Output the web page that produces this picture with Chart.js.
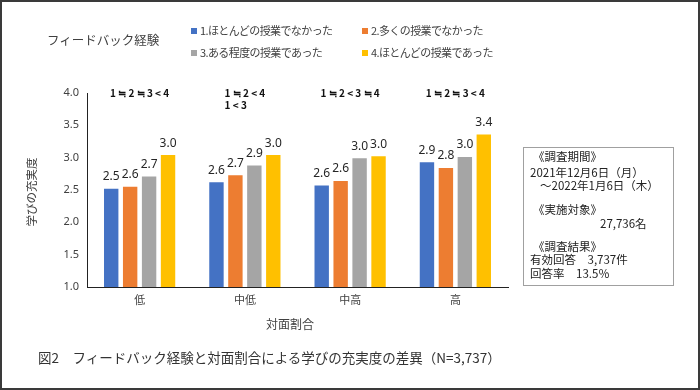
<!DOCTYPE html>
<html>
<head>
<meta charset="utf-8">
<script src="https://cdn.jsdelivr.net/npm/chart.js@4/dist/chart.umd.min.js"></script>
<style>
html,body{margin:0;padding:0;background:#fff;}
#wrap{position:relative;width:700px;height:390px;overflow:hidden;font-family:"Noto Sans CJK JP","Noto Sans",sans-serif;}
#frame{position:absolute;left:0;top:0;width:696px;height:386px;border:2px solid #3a3a3a;}
canvas{position:absolute;left:0;top:0;}
.t{position:absolute;white-space:nowrap;color:#404040;}
.sw{display:inline-block;width:6px;height:6px;margin-right:3px;vertical-align:middle;position:relative;top:-1px;}
#box{position:absolute;left:523px;top:147px;width:151px;height:139px;border:1px solid #a0a0a0;box-sizing:border-box;}
.b{position:absolute;white-space:nowrap;color:#222;font-size:11.5px;line-height:14px;}
</style>
</head>
<body>
<div id="wrap">
<canvas id="c" width="700" height="390"></canvas>
<div id="frame"></div>
<div class="t" style="left:47px;top:31px;font-size:12.5px;line-height:18px;">フィードバック経験</div>
<div id="legend"></div>
<div class="t" style="left:22px;top:192px;font-size:11.5px;line-height:16px;transform:translate(0,-50%) rotate(-90deg);transform-origin:center;width:70px;text-align:center;margin-left:-26px;">学びの充実度</div>
<div class="t" style="left:250px;top:315px;width:80px;text-align:center;font-size:12px;line-height:18px;">対面割合</div>
<div class="t" style="left:38px;top:347px;font-size:13.5px;line-height:20px;color:#333;">図2　フィードバック経験と対面割合による学びの充実度の差異（N=3,737）</div>
<div id="box"></div>
<div class="b" style="left:533px;top:149px;">《調査期間》</div>
<div class="b" style="left:530px;top:165px;">2021年12月6日（月）</div>
<div class="b" style="left:540px;top:178px;">～2022年1月6日（木）</div>
<div class="b" style="left:533px;top:202px;">《実施対象》</div>
<div class="b" style="left:600px;top:216px;">27,736名</div>
<div class="b" style="left:533px;top:239px;">《調査結果》</div>
<div class="b" style="left:530px;top:252px;">有効回答　3,737件</div>
<div class="b" style="left:530px;top:266px;">回答率　13.5％</div>
</div>
<script>
const categories = ["低", "中低", "中高", "高"];
const seriesNames = ["1.ほとんどの授業でなかった", "2.多くの授業でなかった", "3.ある程度の授業であった", "4.ほとんどの授業であった"];
const s1 = [2.52, 2.62, 2.57, 2.93];
const s2 = [2.55, 2.73, 2.64, 2.84];
const s3 = [2.71, 2.88, 2.99, 3.01];
const s4 = [3.04, 3.04, 3.02, 3.36];
const labels1 = ["2.5", "2.6", "2.6", "2.9"];
const labels2 = ["2.6", "2.7", "2.6", "2.8"];
const labels3 = ["2.7", "2.9", "3.0", "3.0"];
const labels4 = ["3.0", "3.0", "3.0", "3.4"];
const comparisons = [["1 ≒ 2 ≒ 3 < 4"], ["1 ≒ 2 < 4", "1 < 3"], ["1 ≒ 2 < 3 ≒ 4"], ["1 ≒ 2 ≒ 3 < 4"]];
const yTicks = [1.0, 1.5, 2.0, 2.5, 3.0, 3.5, 4.0];

const colors = ["#4472C4", "#ED7D31", "#A5A5A5", "#FFC000"];
const allData = [s1, s2, s3, s4];
const allLabels = [labels1, labels2, labels3, labels4];

// HTML legend
const lg = document.getElementById('legend');
const pos = [[191, 22], [362, 22], [191, 44], [362, 44]];
seriesNames.forEach((n, i) => {
  const d = document.createElement('div');
  d.className = 't';
  d.style.left = pos[i][0] + 'px';
  d.style.top = pos[i][1] + 'px';
  d.style.fontSize = '11px';
  d.style.lineHeight = '16px';
  d.style.letterSpacing = '-0.6px';
  d.innerHTML = '<span class="sw" style="background:' + colors[i] + '"></span>' + n;
  lg.appendChild(d);
});

const overlay = {
  id: 'overlay',
  afterDatasetsDraw(chart) {
    const ctx = chart.ctx;
    ctx.save();
    ctx.font = '12px "Noto Sans","Liberation Sans",sans-serif';
    ctx.fillStyle = '#262626';
    ctx.textAlign = 'center';
    ctx.textBaseline = 'middle';
    chart.data.datasets.forEach((ds, di) => {
      const meta = chart.getDatasetMeta(di);
      meta.data.forEach((bar, i) => {
        ctx.fillText(allLabels[di][i], bar.x, bar.y - 12);
      });
    });
    const xs = chart.scales.x;
    ctx.font = 'bold 10px "Noto Sans CJK JP","Noto Sans",sans-serif';
    ctx.fillStyle = '#111';
    comparisons.forEach((lines, i) => {
      const cx = xs.getPixelForValue(i);
      const w = ctx.measureText(lines[0]).width;
      ctx.textAlign = 'left';
      lines.forEach((ln, k) => {
        ctx.fillText(ln, cx - w / 2, 93 + k * 12);
      });
    });
    ctx.restore();
  }
};

new Chart(document.getElementById('c'), {
  type: 'bar',
  data: {
    labels: categories,
    datasets: allData.map((d, i) => ({
      label: seriesNames[i],
      data: d,
      backgroundColor: colors[i],
      borderColor: colors[i],
      borderWidth: 0,
      barPercentage: 0.76,
      categoryPercentage: 0.72
    }))
  },
  options: {
    responsive: false,
    animation: false,
    devicePixelRatio: 1,
    layout: { padding: { left: 20, top: 93, right: 192, bottom: 73 } },
    plugins: { legend: { display: false }, tooltip: { enabled: false } },
    scales: {
      x: {
        grid: { display: false, drawTicks: false },
        border: { display: true, color: '#222', width: 1 },
        ticks: { padding: 6, color: '#404040', font: { size: 11, family: '"Noto Sans CJK JP",sans-serif' } },
        afterFit: s => { s.height = 30; }
      },
      y: {
        min: 1, max: 4,
        grid: { display: false, drawTicks: false },
        border: { display: true, color: '#222', width: 1 },
        afterBuildTicks: s => { s.ticks = yTicks.map(v => ({ value: v })); },
        ticks: { padding: 8, color: '#404040', font: { size: 11, family: '"Noto Sans","Liberation Sans",sans-serif' }, callback: v => Number(v).toFixed(1) },
        afterFit: s => { s.width = 67; }
      }
    }
  },
  plugins: [overlay]
});
</script>
</body>
</html>
